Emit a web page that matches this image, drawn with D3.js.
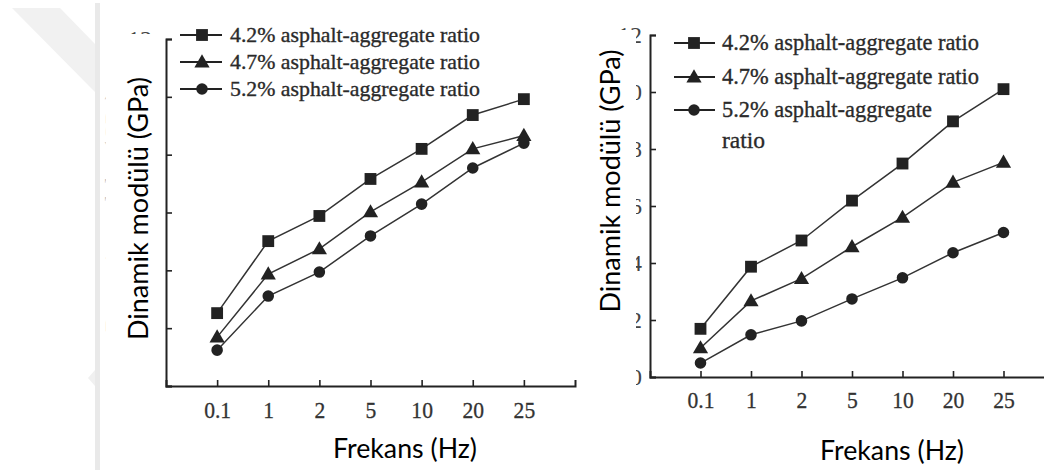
<!DOCTYPE html>
<html><head><meta charset="utf-8">
<script src="https://cdn.jsdelivr.net/npm/d3@7"></script>
<style>body{margin:0;background:#fff}svg{display:block}</style>
</head><body>
<svg id="c" width="1044" height="470"></svg>
<script>
const frequencies = ["0.1", "1", "2", "5", "10", "20", "25"];
const yTicks = [0, 2, 4, 6, 8, 10, 12];
const seriesNames = ["4.2% asphalt-aggregate ratio", "4.7% asphalt-aggregate ratio", "5.2% asphalt-aggregate ratio"];
const seriesSymbols = ["square", "triangle", "circle"];
// left panel
const left42 = [2.52, 5.01, 5.88, 7.16, 8.20, 9.37, 9.92];
const left47 = [1.69, 3.87, 4.74, 6.02, 7.05, 8.20, 8.66];
const left52 = [1.24, 3.11, 3.94, 5.19, 6.29, 7.54, 8.40];
// right panel
const right42 = [1.69, 3.87, 4.79, 6.19, 7.49, 8.97, 10.10];
const right47 = [1.02, 2.67, 3.45, 4.57, 5.60, 6.83, 7.53];
const right52 = [0.49, 1.48, 1.97, 2.74, 3.48, 4.36, 5.07];
const yTitleTr = "Dinamik modülü (GPa)";
const yTitleEn = "Dynamic modulus (GPa)";
const xTitleTr = "Frekans (Hz)";

const svg = d3.select("#c");
const SERIF = "'Liberation Serif','Times New Roman',serif";
const SANS = "Lato,'Open Sans',sans-serif";
const INK = "#222";

// page watermark remnants
svg.append("polygon").attr("points", "12,8 60,8 95,44 95,92").attr("fill", "#f1f1f1");
svg.append("rect").attr("x", 95).attr("y", 3).attr("width", 5).attr("height", 467).attr("fill", "#e9e9e9");
svg.append("polygon").attr("points", "88,378 95,370 95,386").attr("fill", "#f0f0f0");

const symType = {square: d3.symbolSquare, triangle: d3.symbolTriangle, circle: d3.symbolCircle};
const symSize = {square: 140, triangle: 100, circle: 105};

function panel(cfg) {
  const x = d3.scalePoint().domain(frequencies).range([cfg.x0, cfg.x1]).padding(1);
  const y = d3.scaleLinear().domain([0, 12]).range([cfg.y0, cfg.y1]);
  const g = svg.append("g");

  // ghost original title (mostly covered)
  if (cfg.ghostTitle) {
    g.append("text")
      .attr("transform", `translate(${cfg.ghostTitle.x},${cfg.ghostTitle.y}) rotate(-90)`)
      .attr("text-anchor", "middle")
      .attr("font-family", SERIF).attr("font-size", 24)
      .attr("fill", "#c8c8c8")
      .text(yTitleEn);
  }

  // y axis (ticks inward, labels mostly hidden under the pasted title)
  const ya = g.append("g").attr("transform", `translate(${cfg.x0},0)`)
    .call(d3.axisLeft(y).tickValues(yTicks).tickSizeInner(-6).tickSizeOuter(-6).tickPadding(cfg.yPad));
  ya.select(".domain").attr("stroke", INK).attr("stroke-width", 2);
  ya.selectAll(".tick line").attr("stroke", INK).attr("stroke-width", 1.6);
  ya.selectAll(".tick text").attr("font-family", SERIF).attr("font-size", 24).attr("fill", "#444");

  // white box of the pasted Turkish title
  g.append("rect").attr("x", cfg.box[0]).attr("y", cfg.box[1])
    .attr("width", cfg.box[2]).attr("height", cfg.box[3]).attr("fill", "#fff");

  // x axis
  const xa = g.append("g").attr("transform", `translate(0,${cfg.y0})`)
    .call(d3.axisBottom(x).tickSizeInner(-6).tickSizeOuter(-6));
  xa.select(".domain").attr("stroke", INK).attr("stroke-width", 2);
  xa.selectAll(".tick line").attr("stroke", INK).attr("stroke-width", 1.6);
  xa.selectAll(".tick text").attr("font-family", SERIF).attr("font-size", 24).attr("fill", "#333")
    .attr("stroke", "#333").attr("stroke-width", 0.3)
    .attr("y", cfg.xLabOff).attr("dy", 0).attr("transform", "scale(0.9,1)");

  // series
  cfg.series.forEach((vals, i) => {
    const pts = vals.map((v, j) => [x(frequencies[j]), y(v)]);
    g.append("path").attr("d", d3.line()(pts)).attr("fill", "none")
      .attr("stroke", "#333").attr("stroke-width", 1.5);
    const s = seriesSymbols[i];
    g.selectAll(null).data(pts).enter().append("path")
      .attr("transform", d => `translate(${d[0]},${d[1] + (s === "triangle" ? 1 : 0)})`)
      .attr("d", d3.symbol(symType[s], symSize[s]))
      .attr("fill", INK);
  });

  // legend
  const L = cfg.legend;
  seriesNames.forEach((name, i) => {
    const cy = L.rows[i];
    const s = seriesSymbols[i];
    g.append("line").attr("x1", L.lx0).attr("x2", L.lx1).attr("y1", cy).attr("y2", cy)
      .attr("stroke", "#222").attr("stroke-width", 2);
    g.append("path").attr("transform", `translate(${L.mx},${cy + (s === "triangle" ? 1 : 0)})`)
      .attr("d", d3.symbol(symType[s], symSize[s])).attr("fill", INK);
    const t = g.append("text").attr("font-family", SERIF).attr("font-size", L.fs).attr("fill", "#2a2a2a")
      .attr("stroke", "#2a2a2a").attr("stroke-width", 0.35);
    if (L.wrap && i === L.wrap.index) {
      const cut = name.lastIndexOf(" ");
      t.append("tspan").attr("x", L.tx).attr("y", cy + 7).text(name.slice(0, cut))
        .attr("textLength", L.wrap.w1).attr("lengthAdjust", "spacingAndGlyphs");
      t.append("tspan").attr("x", L.tx).attr("y", L.wrap.y2).text(name.slice(cut + 1));
    } else {
      t.attr("x", L.tx).attr("y", cy + 7).text(name)
        .attr("textLength", L.w).attr("lengthAdjust", "spacingAndGlyphs");
    }
  });

  // Turkish axis titles
  g.append("text")
    .attr("transform", `translate(${cfg.yTitle.x},${cfg.yTitle.y}) rotate(-90)`)
    .attr("text-anchor", "middle").attr("font-family", SANS).attr("font-size", 27).attr("fill", "#000")
    .attr("textLength", 263).attr("lengthAdjust", "spacingAndGlyphs")
    .text(yTitleTr);
  g.append("text")
    .attr("x", cfg.xTitle.x).attr("y", cfg.xTitle.y)
    .attr("text-anchor", "middle").attr("font-family", SANS).attr("font-size", 27).attr("fill", "#000")
    .attr("textLength", 144).attr("lengthAdjust", "spacingAndGlyphs")
    .text(xTitleTr);
}

panel({
  x0: 166, x1: 575, y0: 386, y1: 39, yPad: 14, xLabOff: 32,
  box: [106, 34, 55, 380],
  ghostTitle: {x: 121, y: 212},
  series: [left42, left47, left52],
  legend: {lx0: 180, lx1: 222, mx: 202, tx: 230, rows: [35, 62, 89], fs: 22, w: 250},
  yTitle: {x: 148, y: 208.5},
  xTitle: {x: 405, y: 458}
});

panel({
  x0: 650, x1: 1054, y0: 377, y1: 35, yPad: 8, xLabOff: 31,
  box: [588, 30, 48, 380],
  ghostTitle: null,
  series: [right42, right47, right52],
  legend: {lx0: 674, lx1: 715, mx: 694, tx: 722, rows: [43, 77, 110], fs: 23.5, w: 257,
           wrap: {index: 2, w1: 210, y2: 148}},
  yTitle: {x: 620, y: 181},
  xTitle: {x: 892, y: 460}
});
</script>
</body></html>
